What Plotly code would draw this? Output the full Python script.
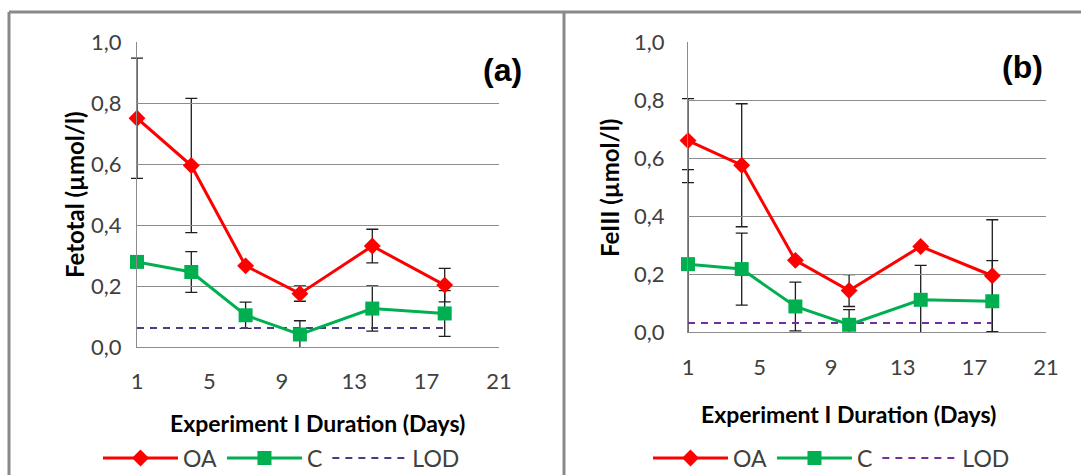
import plotly.graph_objects as go

# ---------------- data ----------------
days = [1, 4, 7, 10, 14, 18]

a_oa = [0.750, 0.595, 0.266, 0.175, 0.331, 0.203]
a_oa_err = [0.197, 0.220, 0.0, 0.025, 0.055, 0.055]
a_c = [0.279, 0.246, 0.104, 0.041, 0.126, 0.110]
a_c_err = [0.0, 0.067, 0.043, 0.045, 0.074, 0.075]
a_lod = 0.062

b_oa = [0.660, 0.575, 0.247, 0.143, 0.295, 0.194]
b_oa_err = [0.145, 0.212, 0.0, 0.055, 0.0, 0.193]
b_c = [0.234, 0.217, 0.088, 0.025, 0.111, 0.106]
b_c_err = [0.326, 0.124, 0.084, 0.052, 0.119, 0.140]
b_lod = 0.031

lod_span = [1, 18]

x_ticks = [1, 5, 9, 13, 17, 21]
y_ticks = [0.0, 0.2, 0.4, 0.6, 0.8, 1.0]
y_ticktext = ["0,0", "0,2", "0,4", "0,6", "0,8", "1,0"]

x_title = "Experiment I Duration (Days)"
y_title_a = "Fetotal (µmol/l)"
y_title_b = "FeIII (µmol/l)"

# ---------------- styles ----------------
FONT = "Lato"
RED = "#FF0000"
GREEN = "#00B050"
ERR = "#1E1E1E"
GRID = "#8C8C8C"
TICK = "#404040"

W, H = 1081, 475
X_RANGE = [1, 21]
Y_RANGE = [0, 1]


def px(x):
    return x / W


def py(y):
    return 1 - y / H


# panel geometry (pixels): left, right, bottom, top of plot area
geo_a = (137, 499, 347, 42)
geo_b = (688, 1046, 332, 42)
PAD = 20  # extra room on the left so error-bar caps at day 1 are not clipped

fig = go.Figure()


def err_trace(xs, ys, es, xa, ya):
    idx = [i for i, e in enumerate(es) if e > 0]
    return go.Scatter(
        x=[xs[i] for i in idx], y=[ys[i] for i in idx], xaxis=xa, yaxis=ya,
        mode="markers", marker=dict(size=1, opacity=0),
        error_y=dict(type="data", array=[es[i] for i in idx], color=ERR,
                     thickness=1.3, width=6),
        showlegend=False, hoverinfo="skip")


panels = [
    # error axes, visible axes, data..., legend
    ("x", "y", "x3", "y3", a_oa, a_oa_err, a_c, a_c_err, a_lod, "#4A3C82", "legend"),
    ("x2", "y2", "x4", "y4", b_oa, b_oa_err, b_c, b_c_err, b_lod, "#7030A0", "legend2"),
]

for exa, eya, xa, ya, oa, oae, c, ce, lod, lodcol, leg in panels:
    fig.add_trace(err_trace(days, c, ce, exa, eya))
    fig.add_trace(err_trace(days, oa, oae, exa, eya))
    fig.add_trace(go.Scatter(
        x=lod_span, y=[lod, lod], xaxis=xa, yaxis=ya, mode="lines", name="LOD",
        line=dict(color=lodcol, width=2, dash="7px,6px"), legend=leg,
        legendrank=3))
    fig.add_trace(go.Scatter(
        x=days, y=c, xaxis=xa, yaxis=ya, mode="lines+markers", name="C",
        line=dict(color=GREEN, width=3), cliponaxis=False,
        marker=dict(symbol="square", size=14, color=GREEN), legend=leg,
        legendrank=2))
    fig.add_trace(go.Scatter(
        x=days, y=oa, xaxis=xa, yaxis=ya, mode="lines+markers", name="OA",
        line=dict(color=RED, width=3), cliponaxis=False,
        marker=dict(symbol="diamond", size=13, color=RED), legend=leg,
        legendrank=1))

axis_common = dict(showline=True, linecolor=GRID, linewidth=1, zeroline=False,
                   tickfont=dict(family=FONT, size=22, color=TICK), ticks="")
hidden = dict(visible=False, showgrid=False, zeroline=False, fixedrange=True)

legend_common = dict(orientation="h", xanchor="left", yanchor="middle",
                     xref="container", yref="container",
                     itemwidth=75, font=dict(family=FONT, size=23, color=TICK),
                     bgcolor="rgba(0,0,0,0)", traceorder="normal")


def wide_range(geo):
    left, right = geo[0], geo[1]
    per_px = (X_RANGE[1] - X_RANGE[0]) / (right - left)
    return [X_RANGE[0] - PAD * per_px, X_RANGE[1]]


fig.update_layout(
    width=W, height=H, margin=dict(l=0, r=0, t=0, b=0, autoexpand=False),
    paper_bgcolor="white", plot_bgcolor="rgba(0,0,0,0)",
    font=dict(family=FONT, color="black"),
    # hidden axes carrying the error bars
    xaxis=dict(domain=[px(geo_a[0] - PAD), px(geo_a[1])], range=wide_range(geo_a),
               anchor="y", **hidden),
    yaxis=dict(domain=[py(geo_a[2]), py(geo_a[3])], range=Y_RANGE, anchor="x",
               **hidden),
    xaxis2=dict(domain=[px(geo_b[0] - PAD), px(geo_b[1])], range=wide_range(geo_b),
                anchor="y2", **hidden),
    yaxis2=dict(domain=[py(geo_b[2]), py(geo_b[3])], range=Y_RANGE, anchor="x2",
                **hidden),
    # visible axes
    xaxis3=dict(domain=[px(geo_a[0]), px(geo_a[1])], range=X_RANGE, tickvals=x_ticks,
                showgrid=False, anchor="y3", ticklabelstandoff=15, **axis_common),
    yaxis3=dict(domain=[py(geo_a[2]), py(geo_a[3])], range=Y_RANGE, tickvals=y_ticks,
                ticktext=y_ticktext, showgrid=True, gridcolor=GRID, gridwidth=1,
                anchor="x3", ticklabelstandoff=10, **axis_common),
    xaxis4=dict(domain=[px(geo_b[0]), px(geo_b[1])], range=X_RANGE, tickvals=x_ticks,
                showgrid=False, anchor="y4", ticklabelstandoff=16, **axis_common),
    yaxis4=dict(domain=[py(geo_b[2]), py(geo_b[3])], range=Y_RANGE, tickvals=y_ticks,
                ticktext=y_ticktext, showgrid=True, gridcolor=GRID, gridwidth=1,
                anchor="x4", ticklabelstandoff=18, **axis_common),
    legend=dict(x=px(98), y=py(458), **legend_common),
    legend2=dict(x=px(648), y=py(458), **legend_common),
    showlegend=True,
)

# axis titles and panel labels
ann = [
    dict(x=px(317), y=py(423), text=f"<b>{x_title}</b>", font=dict(size=23)),
    dict(x=px(848), y=py(414), text=f"<b>{x_title}</b>", font=dict(size=23)),
    dict(x=px(75), y=py(195), text=f"<b>{y_title_a}</b>", textangle=-90,
         font=dict(size=24)),
    dict(x=px(610), y=py(188), text=f"<b>{y_title_b}</b>", textangle=-90,
         font=dict(size=24)),
    dict(x=px(502), y=py(70), text="<b>(a)</b>",
         font=dict(size=32, family="Liberation Sans")),
    dict(x=px(1022), y=py(67), text="<b>(b)</b>",
         font=dict(size=32, family="Liberation Sans")),
]
for a in ann:
    a.update(xref="paper", yref="paper", showarrow=False, xanchor="center",
             yanchor="middle")
    a["font"].setdefault("family", FONT)
    a["font"]["color"] = "black"
fig.update_layout(annotations=ann)

# outer frames of the two chart panels
frame = dict(type="line", xref="paper", yref="paper",
             line=dict(color="#8A8A8A", width=3))
fig.add_shape(x0=px(9), x1=1, y0=py(12), y1=py(12), **frame)
fig.add_shape(x0=px(9), x1=px(9), y0=py(12), y1=0, **frame)
fig.add_shape(x0=px(564), x1=px(564), y0=py(12), y1=0, **frame)

fig.write_html("out.html")
